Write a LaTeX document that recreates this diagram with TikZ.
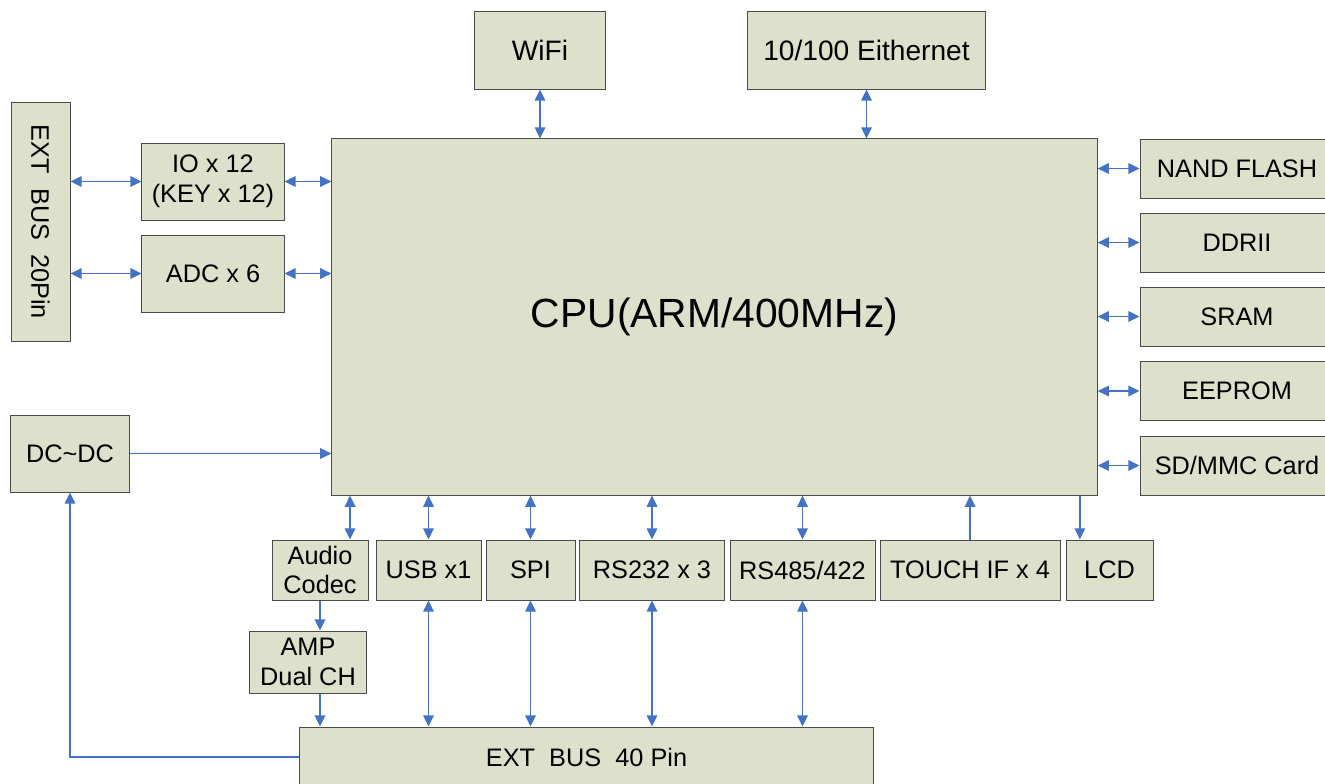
\documentclass[tikz,border=0pt]{standalone}
\usepackage{fontspec}
\setmainfont{Liberation Sans}
\usetikzlibrary{arrows.meta}
\definecolor{boxfill}{RGB}{221,224,203}
\definecolor{boxline}{RGB}{75,75,75}
\definecolor{link}{RGB}{68,114,196}

\begin{document}
\begin{tikzpicture}[x=0.025cm, y=-0.025cm,
    blk/.style={draw=boxline, fill=boxfill, line width=0.7pt, inner sep=0pt,
      align=center, font=\fontsize{18}{21}\selectfont},
    bus/.style={link, line width=1.4pt},
    >={Triangle[length=0.28cm, width=0.26cm]}]
    \useasboundingbox (0,0) rectangle (1325,783);

    \node[blk, minimum width=19.125cm, minimum height=8.9cm,
      font=\fontsize{29}{34}\selectfont] (cpu) at (714.5,317) {CPU(ARM/400MHz)};

    \node[blk, minimum width=3.25cm, minimum height=1.925cm,
      font=\fontsize{20}{24}\selectfont] (wifi) at (540,50.5) {WiFi};
    \node[blk, minimum width=5.925cm, minimum height=1.925cm,
      font=\fontsize{20}{24}\selectfont] (eth) at (866.5,50.5) {10/100 Eithernet};

    \node[blk, rotate=-90, minimum width=5.95cm, minimum height=1.475cm] (ext20) at (40.5,222) {EXT\ \ BUS\ \ 20Pin};
    \node[blk, minimum width=3.55cm, minimum height=1.925cm] (io) at (213,181.5) {IO x 12\\(KEY x 12)};
    \node[blk, minimum width=3.55cm, minimum height=1.925cm] (adc) at (213,273.5) {ADC x 6};
    \node[blk, minimum width=2.95cm, minimum height=1.925cm] (dcdc) at (70,453.5) {DC\textasciitilde DC};

    \node[blk, minimum width=4.85cm, minimum height=1.475cm] (nand) at (1237,168.5) {NAND FLASH};
    \node[blk, minimum width=4.85cm, minimum height=1.475cm] (ddr) at (1237,242.5) {DDRII};
    \node[blk, minimum width=4.85cm, minimum height=1.475cm] (sram) at (1237,316.5) {SRAM};
    \node[blk, minimum width=4.85cm, minimum height=1.475cm] (eep) at (1237,391) {EEPROM};
    \node[blk, minimum width=4.85cm, minimum height=1.475cm] (sd) at (1237,465.5) {SD/MMC Card};

    \node[blk, minimum width=2.4cm, minimum height=1.5cm] (audio) at (320,570) {Audio\\Codec};
    \node[blk, minimum width=2.9cm, minimum height=1.55cm] (amp) at (308,662) {AMP\\Dual CH};
    \node[blk, minimum width=2.625cm, minimum height=1.5cm] (usb) at (428.5,570) {USB x1};
    \node[blk, minimum width=2.225cm, minimum height=1.5cm] (spi) at (530.5,570) {SPI};
    \node[blk, minimum width=3.6cm, minimum height=1.5cm] (rs232) at (652,570) {RS232 x 3};
    \node[blk, minimum width=3.625cm, minimum height=1.5cm] (rs485) at (802.5,570) {RS485/422};
    \node[blk, minimum width=4.5cm, minimum height=1.5cm] (touch) at (970,570) {TOUCH IF x 4};
    \node[blk, minimum width=2.175cm, minimum height=1.5cm] (lcd) at (1109.5,570) {LCD};

    \node[blk, minimum width=14.325cm, minimum height=1.5cm] (ext40) at (586.5,757) {EXT\ \ BUS\ \ 40 Pin};

    % top and left side
    \draw[bus,<->] (wifi.south) -- (wifi.south |- cpu.north);
    \draw[bus,<->] (eth.south) -- (eth.south |- cpu.north);
    \draw[bus,<->] (io.west -| ext20.north) -- (io.west);
    \draw[bus,<->] (io.east) -- (io.east -| cpu.west);
    \draw[bus,<->] (adc.west -| ext20.north) -- (adc.west);
    \draw[bus,<->] (adc.east) -- (adc.east -| cpu.west);
    \draw[bus,->] (dcdc.east) -- (dcdc.east -| cpu.west);
    \draw[bus,->] (ext40.west) -| (dcdc.south);

    % memories
    \foreach \m in {nand,ddr,sram,eep,sd}
      \draw[bus,<->] (cpu.east |- \m.west) -- (\m.west);

    % bottom row
    \coordinate (audin) at ([xshift=0.75cm]audio.north);
    \draw[bus,<->] (audin |- cpu.south) -- (audin);
    \draw[bus,->] (audio.south) -- (audio.south |- amp.north);
    \draw[bus,->] (audio.south |- amp.south) -- (audio.south |- ext40.north);
    \foreach \b in {usb,spi,rs232,rs485} {
      \draw[bus,<->] (\b.north |- cpu.south) -- (\b.north);
      \draw[bus,<->] (\b.south) -- (\b.south |- ext40.north);
    }
    \draw[bus,->] (touch.north) -- (touch.north |- cpu.south);
    \coordinate (lcdin) at ([xshift=-0.74cm]lcd.north);
    \draw[bus,->] (lcdin |- cpu.south) -- (lcdin);
\end{tikzpicture}
\end{document}
